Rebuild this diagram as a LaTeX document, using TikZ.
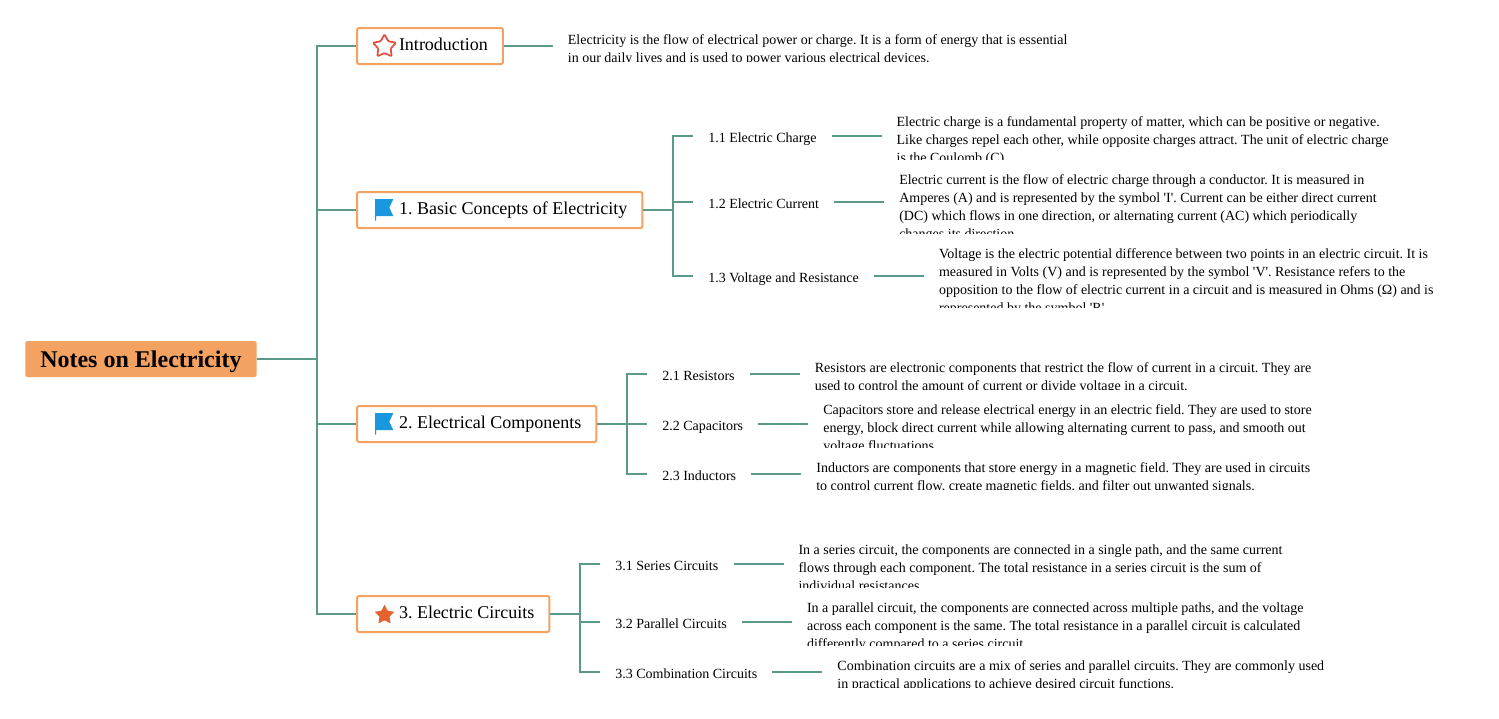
\documentclass[tikz,border=0pt]{standalone}
\usepackage{fontspec}
\setmainfont{Liberation Serif}
\newfontfamily\notesfont{Liberation Serif}
\usetikzlibrary{calc,positioning,shapes.geometric}
\frenchspacing
\definecolor{linkteal}{HTML}{5B9A8B}
\definecolor{boxorange}{HTML}{F4A261}
\definecolor{flagblue}{HTML}{1A98DF}
\definecolor{starred}{HTML}{E0503C}
\definecolor{starorange}{HTML}{E4632F}
\def\px{0.75pt}
\tikzset{
  link/.style={draw=linkteal,line width=1.5pt},
  rootbox/.style={fill=boxorange,rounded corners=1.5pt,inner xsep=11.25pt,inner ysep=0pt,
    minimum height=27pt,text height=13.75pt,text depth=0.65pt,
    font=\notesfont\fontsize{18}{20}\selectfont\bfseries,anchor=west},
  topicbox/.style={draw=boxorange,line width=1.5pt,fill=white,rounded corners=1.5pt,inner xsep=11.25pt,
    inner ysep=0pt,minimum height=27pt,text height=10.75pt,text depth=4.75pt,
    font=\notesfont\fontsize{13.5}{16}\selectfont,anchor=west},
  sublabel/.style={inner xsep=11.25pt,inner ysep=0pt,text height=10.25pt,text depth=0.5pt,
    font=\notesfont\fontsize{10.5}{13.5}\selectfont,anchor=west},
  descbox/.style={inner sep=0pt,minimum width=520*\px,anchor=west},
  desctext/.style={inner sep=0pt,minimum width=0pt,minimum height=0pt,align=left,anchor=north west,
    font=\notesfont\fontsize{10.5}{13.5}\selectfont}
}
% text box that cuts off whatever overflows its height
\newcommand\DescNode[4]{%
  \node[descbox,minimum height=#3*\px-1*\px,right=0pt of #2,
    path picture={\node[desctext] (#1text) at ($(path picture bounding box.north west)+(14.4,0)$)
      {\rule{0pt}{10.4pt}#4};}] (#1) {};
}
\newcommand\FlagIcon[2]{%
  \fill[flagblue,shift={(#1,#2)}] (0,0) -- (18.3,0) -- (14.3,8.7) -- (18.3,17) -- (1,17)
    -- (1,21.7) -- (0,21.7) -- cycle;
}
\begin{document}
\begin{tikzpicture}[x=0.75pt,y=-0.75pt]
\useasboundingbox (0,0) rectangle (1499,718);

%% root and topics
\node[rootbox] (root) at (25,359) {Notes on Electricity};
\node[topicbox] (intro) at (356,46) {\hspace{20.25pt}Introduction};
\node[topicbox] (basics) at (356,210) {\hspace{20.25pt}1. Basic Concepts of Electricity};
\node[topicbox] (comps) at (356,424) {\hspace{20.25pt}2. Electrical Components};
\node[topicbox] (circs) at (356,614) {\hspace{20.25pt}3. Electric Circuits};

%% icons
\node[star,star points=5,star point ratio=1.9,draw=starred,line width=1.3pt,line join=round,
  rounded corners=0.8pt,inner sep=0pt,minimum size=24.5*\px] (iconintro) at (384.5,46.5) {};
\FlagIcon{375}{199}
\FlagIcon{375}{413}
\node[star,star points=5,star point ratio=2,fill=starorange,rounded corners=0.5pt,inner sep=0pt,
  minimum size=21*\px] (iconcircs) at (384.5,615) {};

%% sub topics
\node[sublabel] (l11) at (693,136) {1.1 Electric Charge};
\node[sublabel] (l12) at (693,202) {1.2 Electric Current};
\node[sublabel] (l13) at (693,276) {1.3 Voltage and Resistance};
\node[sublabel] (l21) at (647,374) {2.1 Resistors};
\node[sublabel] (l22) at (647,424) {2.2 Capacitors};
\node[sublabel] (l23) at (647,474) {2.3 Inductors};
\node[sublabel] (l31) at (600,564) {3.1 Series Circuits};
\node[sublabel] (l32) at (600,622) {3.2 Parallel Circuits};
\node[sublabel] (l33) at (600,672) {3.3 Combination Circuits};

%% descriptions
\coordinate (introstub) at (553,46);
\DescNode{d0}{introstub}{32}{Electricity is the flow of electrical power or charge. It is a form of energy that is essential\\
  in our daily lives and is used to power various electrical devices.}
\coordinate (s11) at ($(l11.east)+(50,0)$);
\coordinate (s12) at ($(l12.east)+(50,0)$);
\coordinate (s13) at ($(l13.east)+(50,0)$);
\coordinate (s21) at ($(l21.east)+(50,0)$);
\coordinate (s22) at ($(l22.east)+(50,0)$);
\coordinate (s23) at ($(l23.east)+(50,0)$);
\coordinate (s31) at ($(l31.east)+(50,0)$);
\coordinate (s32) at ($(l32.east)+(50,0)$);
\coordinate (s33) at ($(l33.east)+(50,0)$);
\DescNode{d11}{s11}{48}{Electric charge is a fundamental property of matter, which can be positive or negative.\\
  Like charges repel each other, while opposite charges attract. The unit of electric charge\\
  is the Coulomb (C).}
\DescNode{d12}{s12}{64}{Electric current is the flow of electric charge through a conductor. It is measured in\\
  Amperes (A) and is represented by the symbol 'I'. Current can be either direct current\\
  (DC) which flows in one direction, or alternating current (AC) which periodically\\
  changes its direction.}
\DescNode{d13}{s13}{64}{Voltage is the electric potential difference between two points in an electric circuit. It is\\
  measured in Volts (V) and is represented by the symbol 'V'. Resistance refers to the\\
  opposition to the flow of electric current in a circuit and is measured in Ohms (Ω) and is\\
  represented by the symbol 'R'.}
\DescNode{d21}{s21}{32}{Resistors are electronic components that restrict the flow of current in a circuit. They are\\
  used to control the amount of current or divide voltage in a circuit.}
\DescNode{d22}{s22}{48}{Capacitors store and release electrical energy in an electric field. They are used to store\\
  energy, block direct current while allowing alternating current to pass, and smooth out\\
  voltage fluctuations.}
\DescNode{d23}{s23}{32}{Inductors are components that store energy in a magnetic field. They are used in circuits\\
  to control current flow, create magnetic fields, and filter out unwanted signals.}
\DescNode{d31}{s31}{48}{In a series circuit, the components are connected in a single path, and the same current\\
  flows through each component. The total resistance in a series circuit is the sum of\\
  individual resistances.}
\DescNode{d32}{s32}{48}{In a parallel circuit, the components are connected across multiple paths, and the voltage\\
  across each component is the same. The total resistance in a parallel circuit is calculated\\
  differently compared to a series circuit.}
\DescNode{d33}{s33}{32}{Combination circuits are a mix of series and parallel circuits. They are commonly used\\
  in practical applications to achieve desired circuit functions.}

%% forks
\coordinate (fork0) at (317,359);
\coordinate (fork1) at ($(basics.east)+(30,0)$);
\coordinate (fork2) at ($(comps.east)+(30,0)$);
\coordinate (fork3) at ($(circs.east)+(30,0)$);

%% connectors
\draw[link] (root.east) -- (fork0);
\draw[link] (intro.west) -| (fork0);
\draw[link] (circs.west) -| (fork0);
\draw[link] (basics.west) -- (basics.west -| fork0);
\draw[link] (comps.west) -- (comps.west -| fork0);
\draw[link] (intro.east) -- (d0.west);

\draw[link] (basics.east) -- (fork1);
\draw[link] (l11.west) -| (fork1);
\draw[link] (l13.west) -| (fork1);
\draw[link] (l12.west) -- (l12.west -| fork1);
\draw[link] (comps.east) -- (l22.west);
\draw[link] (l21.west) -| (fork2);
\draw[link] (l23.west) -| (fork2);
\draw[link] (circs.east) -- (fork3);
\draw[link] (l31.west) -| (fork3);
\draw[link] (l33.west) -| (fork3);
\draw[link] (l32.west) -- (l32.west -| fork3);

\foreach \sub/\desc in {l11/d11,l12/d12,l13/d13,l21/d21,l22/d22,l23/d23,l31/d31,l32/d32,l33/d33}
  \draw[link] (\sub.east) -- (\desc.west);

\end{tikzpicture}
\end{document}
